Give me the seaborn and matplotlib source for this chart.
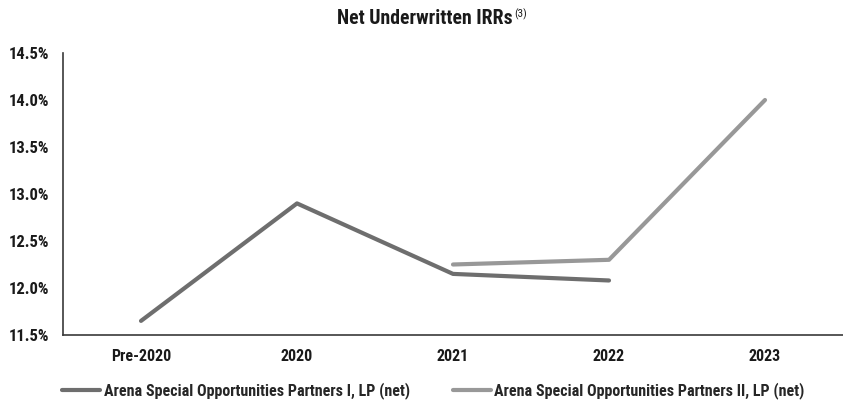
import matplotlib
matplotlib.use("Agg")
import matplotlib.pyplot as plt
import seaborn as sns
import pandas as pd
from matplotlib.ticker import FuncFormatter
from matplotlib.lines import Line2D

categories = ["Pre-2020", "2020", "2021", "2022", "2023"]
fund_i_name = "Arena Special Opportunities Partners I, LP (net)"
fund_ii_name = "Arena Special Opportunities Partners II, LP (net)"
fund_i_irr = [11.65, 12.90, 12.15, 12.08, None]
fund_ii_irr = [None, None, 12.25, 12.30, 14.00]
y_ticks = [11.5, 12.0, 12.5, 13.0, 13.5, 14.0, 14.5]

sns.set_theme(style="white")
plt.rcParams["font.family"] = ["Roboto Condensed", "Archivo Narrow", "Liberation Sans", "DejaVu Sans"]

rows = []
for name, vals in [(fund_i_name, fund_i_irr), (fund_ii_name, fund_ii_irr)]:
    for i, (c, v) in enumerate(zip(categories, vals)):
        if v is not None:
            rows.append({"pos": i, "year": c, "irr": v, "fund": name})
df = pd.DataFrame(rows)

colors = {fund_i_name: "#6e6e6e", fund_ii_name: "#989898"}

fig = plt.figure(figsize=(8.43, 4.0), dpi=100)
ax = fig.add_axes([63 / 843, 1 - 335 / 400, 780 / 843, 282 / 400])

sns.lineplot(data=df, x="pos", y="irr", hue="fund", palette=colors,
             linewidth=3.0, ax=ax, legend=False, sort=True)

ax.set_xlim(-0.5, 4.5)
ax.set_ylim(11.5, 14.5)
ax.set_yticks(y_ticks)
ax.yaxis.set_major_formatter(FuncFormatter(lambda v, p: f"{v:.1f}%"))
ax.set_xticks(range(len(categories)))
ax.set_xticklabels(categories)
ax.set_xlabel("")
ax.set_ylabel("")
ax.tick_params(axis="both", length=0, colors="#1a1a1a")
ax.tick_params(axis="x", pad=10, labelsize=11.5)
ax.tick_params(axis="y", pad=10, labelsize=12)
for lbl in ax.get_xticklabels() + ax.get_yticklabels():
    lbl.set_fontweight("bold")
for s in ["top", "right"]:
    ax.spines[s].set_visible(False)
for s in ["left", "bottom"]:
    ax.spines[s].set_color("#3a3a3a")
    ax.spines[s].set_linewidth(1.2)

fig.text(513 / 843, 1 - 19 / 400, "Net Underwritten IRRs", ha="right", va="center",
         fontsize=14.2, fontweight="bold", color="#1a1a1a")
fig.text(514 / 843, 1 - 14 / 400, "(3)", ha="left", va="center",
         fontsize=8, color="#1a1a1a")

handles = [Line2D([0], [0], color=colors[fund_i_name], lw=3.0),
           Line2D([0], [0], color=colors[fund_ii_name], lw=3.0)]
fig.legend(handles, [fund_i_name, fund_ii_name], loc="center left",
           bbox_to_anchor=(62 / 843, 1 - 391 / 400), ncol=2, frameon=False,
           borderpad=0, borderaxespad=0,
           handlelength=2.4, handletextpad=0.2, columnspacing=2.7,
           prop={"size": 11.5, "weight": "bold"})

fig.savefig("out.png", dpi=100)
